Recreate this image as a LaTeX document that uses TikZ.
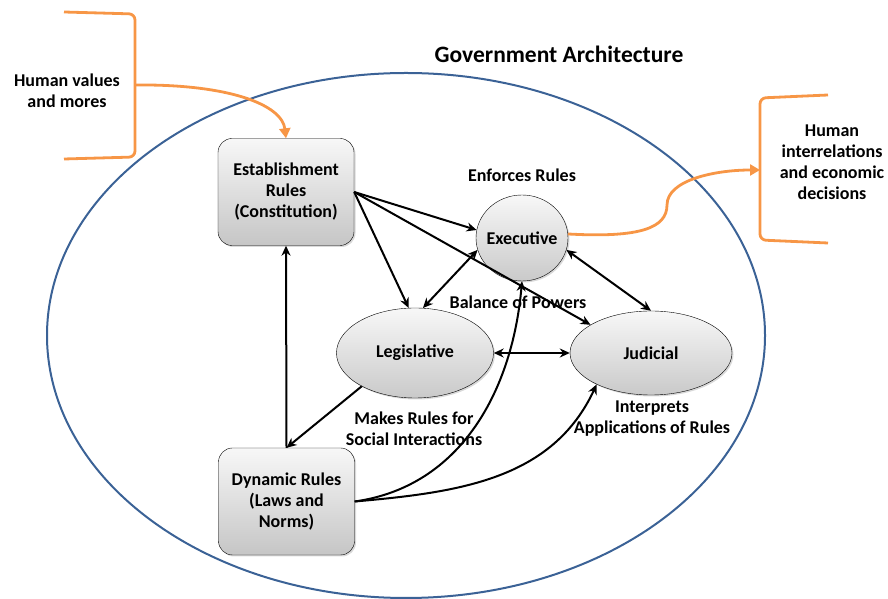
\documentclass[tikz,border=0pt]{standalone}
\usepackage{fontspec}
\setmainfont{Carlito}
\usetikzlibrary{shapes, positioning, arrows.meta, shadows}

\definecolor{rim}{HTML}{3B6296}
\definecolor{hook}{HTML}{F79646}

\tikzset{
  rulebox/.style={draw, rounded corners=14pt, inner sep=0pt, minimum width=136pt, minimum height=107pt,
    align=center, top color=gray!6, bottom color=gray!45,
    drop shadow={opacity=0.3, shadow xshift=1.5pt, shadow yshift=-1.5pt}},
  branch/.style={draw, ellipse, inner sep=0pt, align=center, top color=gray!6, bottom color=gray!42,
    drop shadow={opacity=0.3, shadow xshift=1.5pt, shadow yshift=-1.5pt}},
  link/.style={line width=2pt, -{Stealth[length=10pt, width=9pt]}},
  twolink/.style={line width=2pt, {Stealth[length=10pt, width=9pt]}-{Stealth[length=10pt, width=9pt]}},
  bracket/.style={hook, line width=2.8pt, rounded corners=6pt},
  hooklink/.style={hook, line width=2.8pt, -{Triangle[length=10pt, width=11pt]}},
}

\begin{document}
\begin{tikzpicture}[x=1pt, y=1pt, font=\bfseries\fontsize{18}{21}\selectfont]
  \useasboundingbox (0, 0) rectangle (888, 599);

  \draw[rim, line width=2pt] (406, 263.5) ellipse [x radius=359, y radius=262.5];
  \node (title) at (559, 545) {\fontsize{23.5}{27}\selectfont Government Architecture};

  % rule sets and branches
  \node[rulebox] (est) at (286, 407) {Establishment\\Rules\\(Constitution)};
  \node[rulebox] (dyn) at (286.5, 97.5) {Dynamic Rules\\(Laws and\\Norms)};
  \node[branch, inner xsep=-16pt, minimum width=92pt, minimum height=86pt] (ex) at (522, 361) {Executive};
  \node[branch, minimum width=157pt, minimum height=90pt] (leg) at (415, 246) {Legislative};
  \node[branch, minimum width=162pt, minimum height=84pt] (jud) at (651, 246) {Judicial};

  \node (enf) at (522, 424) {Enforces Rules};
  \node (bal) at (518, 297) {Balance of Powers};
  \node[align=center] (mak) at (414, 170) {Makes Rules for\\Social Interactions};
  \node[align=center] (intp) at (652, 180) {Interprets\\Applications of Rules};

  % outside influences
  \node[align=center] (val) at (67, 508) {Human values\\and mores};
  \node[align=center] (rel) at (832, 437) {Human\\interrelations\\and economic\\decisions};
  \draw[bracket] (64, 587) -- (135, 585) -- (135, 442) -- (64, 440);
  \coordinate (lhook) at (135, 514);
  \draw[bracket] (828, 504) -- (760, 501) -- (760, 359) -- (828, 356);
  \coordinate (rhook) at (760, 429);

  \draw[hooklink] (lhook) .. controls (230, 515) and (282, 494) .. (est.north);
  \draw[hooklink] (ex.5) .. controls (640, 361) and (667, 371) .. (667, 394)
    .. controls (667, 419) and (715, 429) .. (rhook);

  \draw[link] (est.east) -- (ex.170);
  \draw[link] (est.east) -- (leg.98);
  \draw[link] (est.east) -- (jud.155);
  \draw[twolink] (leg.80) -- (ex.195);
  \draw[twolink] (ex.-15) -- (jud.north);
  \draw[twolink] (leg.east) -- (jud.west);
  \draw[link] (leg.212) -- (dyn.north);
  \draw[link] (dyn.north) -- (est.south);
  \draw[link] (dyn.east) to[out=8, in=-95] (ex.south);
  \draw[link] (dyn.east) to[out=5, in=-115] (jud.210);
\end{tikzpicture}
\end{document}
